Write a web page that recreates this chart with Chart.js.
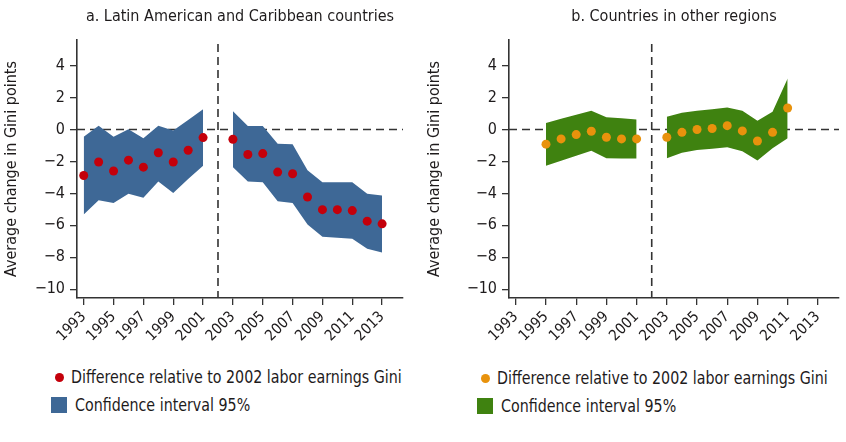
<!DOCTYPE html>
<html><head><meta charset="utf-8">
<script src="https://cdn.jsdelivr.net/npm/chart.js@4/dist/chart.umd.min.js"></script>
<style>
body{margin:0;background:#fff;width:846px;height:442px;overflow:hidden;position:relative;font-family:"Liberation Sans Narrow","Arial Narrow","DejaVu Sans Condensed",sans-serif;color:#1e1b1c}
canvas{position:absolute;top:0}
#ca{left:0}
#cb{left:423px}
.lg{position:absolute;font-size:18px;white-space:nowrap;line-height:20px;transform:scaleX(0.88);transform-origin:0 50%}
.dot{position:absolute;width:9px;height:9px;border-radius:50%}
.sq{position:absolute;width:16px;height:16px}
</style></head>
<body>
<canvas id="ca" width="423" height="362"></canvas>
<canvas id="cb" width="423" height="362"></canvas>

<div class="dot" style="left:55px;top:373px;background:#c4000b"></div>
<div class="lg" style="left:71px;top:367px">Difference relative to 2002 labor earnings Gini</div>
<div class="sq" style="left:51px;top:397px;background:#3e6896"></div>
<div class="lg" style="left:75px;top:395px">Confidence interval 95%</div>

<div class="dot" style="left:481px;top:374px;background:#e8920c"></div>
<div class="lg" style="left:497px;top:368px">Difference relative to 2002 labor earnings Gini</div>
<div class="sq" style="left:477px;top:398px;background:#3f8210"></div>
<div class="lg" style="left:501px;top:396px">Confidence interval 95%</div>

<script>
// ---- data ----
const lacYears  = [1993,1994,1995,1996,1997,1998,1999,2000,2001,2002,2003,2004,2005,2006,2007,2008,2009,2010,2011,2012,2013];
const lacPoint  = [-2.88,-2.04,-2.60,-1.92,-2.36,-1.46,-2.04,-1.30,-0.51,null,-0.61,-1.57,-1.51,-2.67,-2.77,-4.23,-5.02,-5.02,-5.08,-5.74,-5.91];
const lacUpper  = [-0.45,0.24,-0.45,0.01,-0.55,0.24,-0.07,0.59,1.26,null,1.15,0.22,0.22,-0.90,-0.92,-2.56,-3.31,-3.31,-3.31,-4.02,-4.14];
const lacLower  = [-5.33,-4.43,-4.60,-4.02,-4.27,-3.25,-3.98,-3.10,-2.27,null,-2.36,-3.25,-3.31,-4.50,-4.60,-5.95,-6.72,-6.78,-6.84,-7.47,-7.71];

const othYears  = [1995,1996,1997,1998,1999,2000,2001,2002,2003,2004,2005,2006,2007,2008,2009,2010,2011];
const othPoint  = [-0.92,-0.59,-0.32,-0.11,-0.49,-0.59,-0.59,null,-0.49,-0.18,0.00,0.06,0.24,-0.09,-0.72,-0.18,1.34];
const othUpper  = [0.41,0.67,0.92,1.17,0.76,0.70,0.63,null,0.80,1.05,1.17,1.26,1.38,1.17,0.55,1.11,3.19];
const othLower  = [-2.27,-1.96,-1.65,-1.34,-1.80,-1.81,-1.82,null,-1.80,-1.45,-1.28,-1.20,-1.11,-1.36,-1.95,-1.17,-0.55];

const xTickLabels = [1993,1995,1997,1999,2001,2003,2005,2007,2009,2011,2013];
const yTickValues = [4,2,0,-2,-4,-6,-8,-10];
const REF_YEAR = 2002, REF_VALUE = 0;

const FONT = '"Liberation Sans Narrow","Arial Narrow","DejaVu Sans Condensed",sans-serif';
const INK = '#1e1b1c';

const refLines = {
  id:'refLines',
  beforeDatasetsDraw(chart){
    const {ctx, chartArea:a, scales:{x,y}} = chart;
    ctx.save();
    ctx.strokeStyle='#333'; ctx.lineWidth=1.6; ctx.setLineDash([8,5]);
    const y0=y.getPixelForValue(REF_VALUE);
    ctx.beginPath(); ctx.moveTo(a.left,y0); ctx.lineTo(a.right,y0); ctx.stroke();
    const x0=x.getPixelForValue(REF_YEAR);
    ctx.beginPath(); ctx.moveTo(x0,a.top+4); ctx.lineTo(x0,a.bottom); ctx.stroke();
    ctx.restore();
  }
};

function xy(years, vals){ return years.map((yr,i)=>({x:yr, y:vals[i]})); }

function makeChart(id, title, years, pts, up, lo, dotColor, bandColor, yWidth, padRight){
  new Chart(document.getElementById(id), {
    type:'line',
    data:{ datasets:[
      {data:xy(years,pts), showLine:false, pointRadius:4.5, pointHoverRadius:4.5, pointBorderWidth:0, pointBackgroundColor:dotColor, borderColor:dotColor},
      {data:xy(years,up), borderWidth:0, pointRadius:0, borderColor:bandColor, backgroundColor:bandColor, fill:'+1', spanGaps:false},
      {data:xy(years,lo), borderWidth:0, pointRadius:0, borderColor:bandColor, backgroundColor:bandColor, fill:false, spanGaps:false}
    ]},
    options:{
      responsive:false, animation:false,
      layout:{padding:{left:0,right:padRight,top:0,bottom:0}},
      plugins:{
        legend:{display:false}, tooltip:{enabled:false},
        title:{display:true, text:title, fullSize:false, color:INK,
               font:{family:FONT, size:16, weight:'normal'}, padding:{top:7,bottom:13.8}}
      },
      scales:{
        x:{type:'linear', min:1992.55, max:2014.4,
           afterBuildTicks:s=>{s.ticks = xTickLabels.map(v=>({value:v}));},
           afterFit:s=>{s.height = 362-298;},
           grid:{drawOnChartArea:false, drawTicks:true, tickLength:7, color:'#333', lineWidth:1.3},
           border:{display:true, color:'#333', width:1.6},
           ticks:{autoSkip:false, minRotation:45, maxRotation:45, padding:3, color:INK,
                  font:{family:FONT, size:15}, callback:v=>String(v)}},
        y:{type:'linear', min:-10.55, max:5.6,
           afterBuildTicks:s=>{s.ticks = yTickValues.map(v=>({value:v}));},
           afterFit:s=>{s.width = yWidth;},
           grid:{drawOnChartArea:false, drawTicks:true, tickLength:7, color:'#333', lineWidth:1.3},
           border:{display:true, color:'#333', width:1.6},
           title:{display:true, text:'Average change in Gini points', color:INK,
                  font:{family:FONT, size:16}, padding:{top:2,bottom:0}},
           ticks:{padding:5, color:INK, font:{family:FONT, size:16},
                  callback:v=> v<0 ? '\u2212'+Math.abs(v) : String(v)}}
      }
    },
    plugins:[refLines]
  });
}

makeChart('ca','a. Latin American and Caribbean countries', lacYears, lacPoint, lacUpper, lacLower, '#c4000b', '#3e6896', 77, 20);
makeChart('cb','b. Countries in other regions', othYears, othPoint, othUpper, othLower, '#e8920c', '#3f8210', 86, 7);
</script>
</body></html>
